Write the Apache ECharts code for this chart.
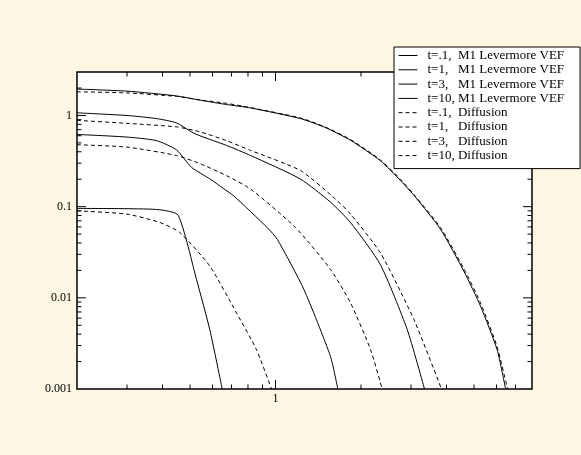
<!DOCTYPE html>
<html>
<head>
<meta charset="utf-8">
<script src="https://cdn.jsdelivr.net/npm/echarts@6/dist/echarts.min.js"></script>
<style>
  html, body { margin: 0; padding: 0; background: #FDF6E3; }
  #chart { width: 581px; height: 455px; }
</style>
</head>
<body>
<div id="chart"></div>
<script>
// Radiation energy density profiles: M1 Levermore VEF (solid) vs diffusion (dashed)
const seriesNames = [
  't=.1,  M1 Levermore VEF',
  't=1,   M1 Levermore VEF',
  't=3,   M1 Levermore VEF',
  't=10, M1 Levermore VEF',
  't=.1,  Diffusion',
  't=1,   Diffusion',
  't=3,   Diffusion',
  't=10, Diffusion'
];

const m1T01 = [[0.2,0.0957],[0.3,0.095],[0.391,0.0925],[0.454,0.0808],[0.527,0.0159],[0.587,0.00447],[0.649,0.001]];
const m1T1  = [[0.2,0.62],[0.3,0.58],[0.381,0.53],[0.448,0.42],[0.506,0.27],[0.590,0.2],[0.654,0.159],[0.711,0.132],[0.935,0.059],[1.014,0.044],[1.258,0.0124],[1.562,0.00227],[1.657,0.001]];
const m1T3  = [[0.2,1.07],[0.3,1.0],[0.381,0.925],[0.448,0.83],[0.506,0.66],[0.544,0.596],[0.672,0.47],[0.817,0.364],[1.224,0.201],[1.562,0.112],[1.837,0.067],[2.343,0.023],[2.908,0.0045],[3.347,0.001]];
const m1T10 = [[0.2,1.95],[0.3,1.85],[0.448,1.64],[0.544,1.47],[0.672,1.32],[0.817,1.21],[1.224,0.925],[1.50,0.736],[1.837,0.535],[2.343,0.318],[2.755,0.193],[3.11,0.127],[3.81,0.0566],[4.60,0.0197],[5.27,0.0081],[6.03,0.00269],[6.46,0.001]];

const diffT01 = [[0.2,0.0901],[0.299,0.0829],[0.391,0.0672],[0.460,0.0521],[0.587,0.0223],[0.729,0.00683],[0.857,0.0027],[0.968,0.001]];
const diffT1  = [[0.2,0.478],[0.3,0.45],[0.448,0.364],[0.544,0.295],[0.672,0.219],[0.817,0.156],[1.176,0.059],[1.562,0.0205],[1.837,0.0088],[2.161,0.0027],[2.375,0.001]];
const diffT3  = [[0.2,0.885],[0.3,0.82],[0.448,0.75],[0.544,0.66],[0.672,0.53],[0.817,0.414],[1.224,0.249],[1.627,0.121],[1.837,0.083],[2.343,0.031],[3.07,0.0058],[3.84,0.001]];
const diffT10 = [[0.2,1.82],[0.3,1.77],[0.448,1.62],[0.544,1.48],[0.672,1.36],[0.817,1.22],[1.224,0.94],[1.50,0.745],[1.837,0.545],[2.343,0.325],[2.755,0.2],[3.11,0.13],[3.81,0.059],[4.60,0.021],[5.27,0.0088],[6.03,0.0029],[6.56,0.001]];

// Axis ranges and tick positions
const xRange = [0.2, 8];
const yRange = [0.001, 3];
const xTickValues = [1];
const xTickLabels = ['1'];
const yTickValues = [0.001, 0.01, 0.1, 1];
const yTickLabels = ['0.001', '0.01', '0.1', '1'];
const xMinorTicks = [0.3, 0.4, 0.5, 0.6, 0.7, 0.8, 0.9, 2, 3, 4, 5, 6, 7];
const yMajorTicks = [0.01, 0.1, 1];
const yMinorTicks = [0.002, 0.003, 0.004, 0.005, 0.006, 0.007, 0.008, 0.009,
                     0.02, 0.03, 0.04, 0.05, 0.06, 0.07, 0.08, 0.09,
                     0.2, 0.3, 0.4, 0.5, 0.6, 0.7, 0.8, 0.9, 2];

const FONT = 'Liberation Serif';

function labelFor(values, labels) {
  return function (v) {
    for (let i = 0; i < values.length; i++) {
      if (Math.abs(Math.log10(v) - Math.log10(values[i])) < 1e-6) return labels[i];
    }
    return '';
  };
}

// Tick marks on all four sides, pointing inward: [x, y, axis(0=x,1=y), major]
const tickData = [];
xTickValues.forEach(v => tickData.push([v, yRange[0], 0, 1]));
xMinorTicks.forEach(v => tickData.push([v, yRange[0], 0, 0]));
yMajorTicks.forEach(v => tickData.push([xRange[0], v, 1, 1]));
yMinorTicks.forEach(v => tickData.push([xRange[0], v, 1, 0]));

function renderTick(params, api) {
  const axis = api.value(2);
  const len = api.value(3) ? 9 : 4.5;
  let segs;
  if (axis === 0) {
    const b = api.coord([api.value(0), yRange[0]]);
    const t = api.coord([api.value(0), yRange[1]]);
    segs = [[b[0], b[1], b[0], b[1] - len], [t[0], t[1], t[0], t[1] + len]];
  } else {
    const l = api.coord([xRange[0], api.value(1)]);
    const r = api.coord([xRange[1], api.value(1)]);
    segs = [[l[0], l[1], l[0] + len, l[1]], [r[0], r[1], r[0] - len, r[1]]];
  }
  return {
    type: 'group',
    children: segs.map(s => ({
      type: 'line',
      shape: { x1: s[0], y1: s[1], x2: s[2], y2: s[3] },
      style: { stroke: '#000', lineWidth: 1 }
    }))
  };
}

function lineSeries(name, data, dashed) {
  return {
    name: name,
    type: 'line',
    data: data,
    symbol: 'none',
    showSymbol: false,
    smooth: 0.2,
    lineStyle: { color: '#000', width: 1, type: dashed ? [4, 3] : 'solid' },
    itemStyle: { color: '#000' },
    silent: true,
    z: 3
  };
}

const chart = echarts.init(document.getElementById('chart'), null, { renderer: 'canvas' });
chart.setOption({
  animation: false,
  backgroundColor: '#FDF6E3',
  textStyle: { fontFamily: FONT },
  grid: {
    left: 77, top: 72, width: 455, height: 317,
    show: true, backgroundColor: '#ffffff', borderColor: '#000', borderWidth: 1.5
  },
  xAxis: {
    type: 'log', logBase: 10, min: xRange[0], max: xRange[1],
    axisLine: { show: false }, axisTick: { show: false }, splitLine: { show: false },
    axisLabel: {
      fontFamily: FONT, fontSize: 12, color: '#000', margin: 4,
      formatter: labelFor(xTickValues, xTickLabels)
    }
  },
  yAxis: {
    type: 'log', logBase: 10, min: yRange[0], max: yRange[1],
    axisLine: { show: false }, axisTick: { show: false }, splitLine: { show: false },
    axisLabel: {
      fontFamily: FONT, fontSize: 12, color: '#000', margin: 5,
      formatter: labelFor(yTickValues, yTickLabels)
    }
  },
  legend: {
    orient: 'vertical', left: 394, top: 47, z: 20,
    data: seriesNames,
    itemWidth: 19, itemHeight: 14, itemGap: 1.3,
    padding: [2, 16, 6.5, 4],
    backgroundColor: '#ffffff', borderColor: '#000', borderWidth: 1,
    selectedMode: false,
    itemStyle: { opacity: 0 },
    lineStyle: { width: 1 },
    textStyle: { fontFamily: FONT, fontSize: 13, color: '#000', padding: [0, 0, 0, 5] }
  },
  series: [
    lineSeries(seriesNames[0], m1T01, false),
    lineSeries(seriesNames[1], m1T1, false),
    lineSeries(seriesNames[2], m1T3, false),
    lineSeries(seriesNames[3], m1T10, false),
    lineSeries(seriesNames[4], diffT01, true),
    lineSeries(seriesNames[5], diffT1, true),
    lineSeries(seriesNames[6], diffT3, true),
    lineSeries(seriesNames[7], diffT10, true),
    {
      type: 'custom',
      data: tickData,
      encode: { x: 0, y: 1 },
      renderItem: renderTick,
      silent: true,
      clip: false,
      z: 2
    }
  ]
});
</script>
</body>
</html>
